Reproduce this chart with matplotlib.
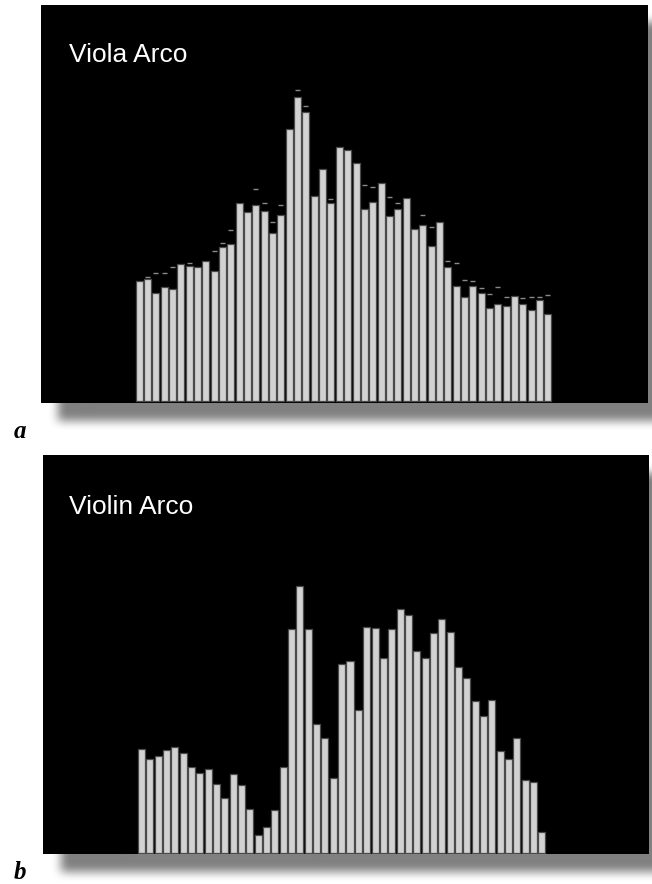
import numpy as np
import matplotlib
matplotlib.use("Agg")
import matplotlib.pyplot as plt

# bar heights (arbitrary level units)
viola_levels = [120, 121.7, 107.7, 113.3, 111.7, 136.7, 135, 133.3, 139.3, 130,
                154, 156.7, 197.3, 188.3, 196, 190, 167.3, 186, 271.7, 303.3,
                289, 205, 231.7, 197.3, 254, 251, 237.3, 191.7, 198.3, 217.7,
                185, 191.7, 202.7, 171.3, 176, 155, 178.7, 134, 114.7, 103.3,
                114.7, 107.7, 92.3, 96.7, 95, 104.3, 96.7, 91, 100.7, 86.7]

# small peak-hold dashes above some viola bars (None = no dash visible)
viola_peaks = [None, 124, 127.7, 127.7, 133.3, None, 137.7, None, None, 150,
               157.3, 170.7, None, None, 211.7, 197.7, 178.3, 196, None, 310.7,
               295, None, None, 201.7, None, None, None, 216, 213.3, None,
               203.3, 197.7, None, None, 185.7, 173.3, None, 139.3, 137.3, 121,
               119.3, 112.7, 106.7, 114, 104, None, 102.7, 104, 103.3, 105.7]

violin_levels = [103.4, 93.7, 96.7, 102.7, 106, 99.4, 85.4, 80, 83.7, 68.7,
                 54.7, 78.7, 67.4, 44, 17.4, 25.7, 42.7, 85.4, 223.7, 267,
                 223.7, 128.7, 115, 74.4, 188.7, 191.7, 142.7, 226, 225, 194.4,
                 223.4, 243.4, 237.4, 201.7, 194.4, 219.4, 233.4, 221, 186, 174.7,
                 152, 137, 152.4, 102, 93.7, 114.7, 72.7, 70.4, 20.4]

titles = ["Viola Arco", "Violin Arco"]
panel_letters = ["a", "b"]

W, H = 652, 884
fig = plt.figure(figsize=(W / 100, H / 100), dpi=100)

# panel rectangles in pixels: left, top, right, bottom
panels = [(40.7, 4.7, 647.7, 403.3), (43.3, 455, 648.7, 854)]

# drop shadow behind the panels, blurred rectangle
shade = np.zeros((H, W))
off = 18
for l, t, r, b in panels:
    shade[int(t + off):int(b + off), int(l + off):min(W, int(r + off))] = 1.0


def box_blur(a, k):
    pad = np.pad(a, ((k, k), (k, k)), mode="edge")
    c = np.cumsum(pad, axis=0)
    c = np.vstack([np.zeros((1, c.shape[1])), c])
    a = (c[2 * k + 1:] - c[:-2 * k - 1]) / (2 * k + 1)
    c = np.cumsum(a, axis=1)
    c = np.hstack([np.zeros((c.shape[0], 1)), c])
    return (c[:, 2 * k + 1:] - c[:, :-2 * k - 1]) / (2 * k + 1)


for _ in range(3):
    shade = box_blur(shade, 4)
bg = fig.add_axes([0, 0, 1, 1], zorder=0)
bg.imshow(1 - 0.5 * shade, cmap="gray", vmin=0, vmax=1, aspect="auto",
          interpolation="bilinear")
bg.set_axis_off()

datasets = [(viola_levels, viola_peaks, 139.17, 400.7),
            (violin_levels, None, 141.5, 852.7)]
pitch = 8.34

for k, ((l, t, r, b), (levels, peaks, x0, base)) in enumerate(zip(panels, datasets)):
    ax = fig.add_axes([l / W, 1 - b / H, (r - l) / W, (b - t) / H], zorder=2)
    ax.set_facecolor("black")
    idx = np.arange(len(levels))
    ax.bar(idx, levels, width=0.84, color="#d2d2d2", edgecolor="#4a4a4a",
           linewidth=0.9)
    if peaks is not None:
        px = [i for i, p in enumerate(peaks) if p is not None]
        py = [p for p in peaks if p is not None]
        ax.hlines(py, np.array(px) - 0.3, np.array(px) + 0.3, color="#8a8a8a",
                  linewidth=1.0)
    ax.set_xlim((l - x0) / pitch, (r - x0) / pitch)
    ax.set_ylim(-(b - base), base - t)
    ax.set_xticks([])
    ax.set_yticks([])
    for s in ax.spines.values():
        s.set_visible(False)
    base_y = [61.7, 514][k]
    ax.text((69 - l) / (r - l), 1 - (base_y - t) / (b - t), titles[k],
            transform=ax.transAxes, color="white", fontsize=19,
            family="Liberation Sans", va="baseline", ha="left")

fig.text(14 / W, 1 - 438 / H, panel_letters[0], fontsize=18, family="Liberation Serif",
         style="italic", weight="bold", va="baseline")
fig.text(14 / W, 1 - 879 / H, panel_letters[1], fontsize=18, family="Liberation Serif",
         style="italic", weight="bold", va="baseline")

fig.savefig("out.png", dpi=100, facecolor="white")
